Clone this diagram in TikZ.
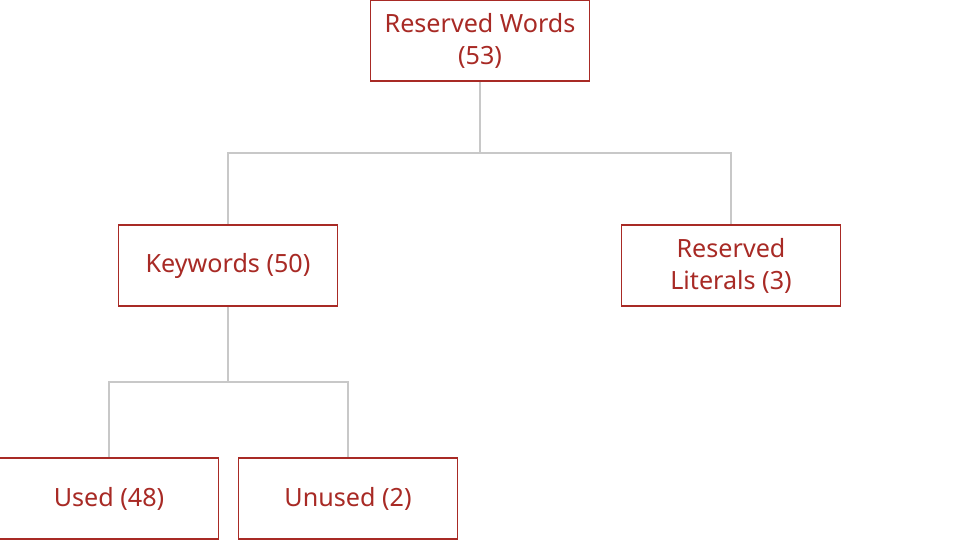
\documentclass[tikz,border=0pt]{standalone}
\usepackage{fontspec}
\setmainfont{Noto Sans}
\definecolor{wordred}{HTML}{A82A25}
\definecolor{linkgray}{HTML}{C8C8C8}
\tikzset{
  wordbox/.style={draw=wordred, line width=0.9pt, fill=white, rectangle, text=wordred,
    minimum width=4.38cm, minimum height=1.62cm, inner sep=0pt, align=center,
    font=\fontsize{14.3pt}{18.2pt}\selectfont},
  link/.style={draw=linkgray, line width=1.2pt}
}
\begin{document}
\begin{tikzpicture}
      \useasboundingbox (0,0) rectangle (19.2,10.8);
      \node[wordbox] (RW) at (9.6,9.99) {Reserved Words\\(53)};
      %
      \node[wordbox] (KW) at (4.56,5.49) {Keywords (50)};
      \node[wordbox] (RL) at (14.62,5.49) {Reserved\\Literals (3)};
      %
      \node[wordbox] (US) at (2.18,0.83) {Used (48)};
      \node[wordbox] (UN) at (6.96,0.83) {Unused (2)};
      %
      \coordinate (J1) at (9.6,7.74);
      \coordinate (J2) at (4.56,3.16);
      \draw[link] (RW.south) -- (J1) -| (KW.north);
      \draw[link] (J1) -| (RL.north);
      \draw[link] (KW.south) -- (J2) -| (US.north);
      \draw[link] (J2) -| (UN.north);
    \end{tikzpicture}
\end{document}
